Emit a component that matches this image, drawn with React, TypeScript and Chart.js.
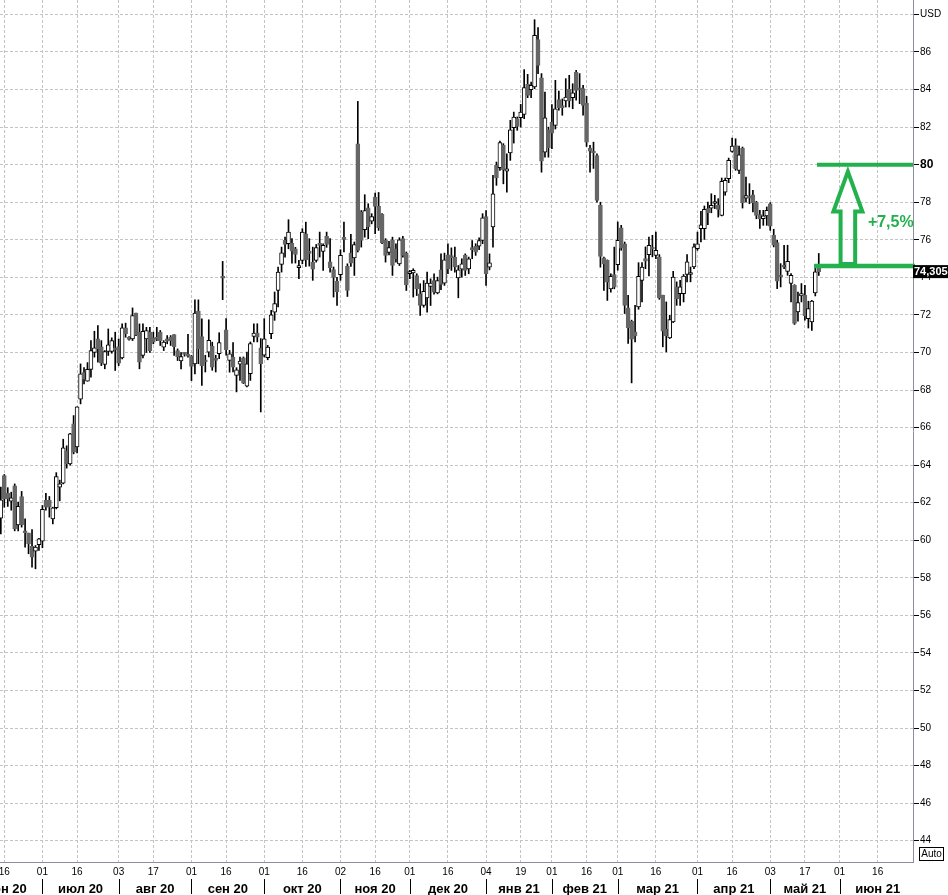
import { useEffect, useRef } from 'react';
import { Chart, registerables } from 'chart.js';

Chart.register(...registerables);

// Trading-day index 0 = 16 Jun 2020 (US trading calendar). First candle = 15 Jun 2020.
const firstCandle = -1;

const opens = [
  61.18, 63.45, 62.5, 62.08, 62.9, 60.82, 62.33, 60.43, 60.38, 59.67,
  59.42, 59.76, 59.95, 62.12, 62.12, 61.14, 61.73, 62.83, 63.04, 64.76,
  64.07, 66.2, 64.97, 67.51, 68.93, 68.47, 69.1, 70.0, 70.72, 70.3,
  69.36, 70.05, 70.05, 70.24, 70.31, 69.71, 71.31, 70.78, 70.72, 72.1,
  71.08, 69.84, 70.72, 71.08, 70.78, 70.75, 71.08, 70.28, 70.72, 70.81,
  70.95, 70.1, 69.55, 69.93, 69.87, 69.8, 69.39, 72.2, 70.85, 69.55,
  70.02, 70.33, 69.6, 69.93, 73.98, 71.21, 69.58, 69.76, 68.78, 69.37,
  69.72, 68.2, 68.87, 70.86, 71.03, 70.25, 69.85, 69.72, 71.0, 72.15,
  73.3, 74.69, 75.97, 75.79, 75.82, 75.52, 74.51, 74.9, 76.32, 75.32,
  74.8, 74.9, 75.8, 75.38, 76.18, 74.83, 74.42, 73.79, 74.14, 76.07,
  74.58, 75.31, 75.04, 81.11, 77.48, 76.54, 77.7, 76.99, 78.27, 77.78,
  77.35, 75.97, 75.33, 76.0, 75.52, 74.72, 76.06, 75.29, 74.2, 74.23,
  74.1, 73.12, 72.5, 72.91, 73.51, 73.83, 73.17, 74.4, 73.69, 75.2,
  75.1, 75.08, 73.97, 74.44, 75.17, 74.45, 75.52, 75.65, 75.66, 75.96,
  77.24, 74.54, 76.68, 79.96, 79.84, 81.03, 79.66, 80.62, 81.97, 82.45,
  82.5, 82.68, 84.28, 83.99, 84.14, 86.66, 84.63, 80.67, 81.86, 82.27,
  82.09, 83.46, 83.08, 83.39, 84.01, 83.57, 84.93, 84.02, 84.05, 83.28,
  80.88, 80.72, 80.49, 77.83, 75.04, 74.9, 73.39, 74.15, 74.68, 76.63,
  75.79, 72.37, 71.66, 71.1, 72.43, 73.83, 75.0, 75.21, 75.55, 75.17,
  75.09, 73.05, 71.24, 70.78, 71.63, 73.49, 73.13, 73.13, 74.15, 74.15,
  74.55, 75.53, 76.59, 76.59, 77.66, 77.69, 77.93, 77.83, 77.3, 78.54,
  79.25, 80.7, 81.02, 79.7, 80.88, 78.22, 78.33, 78.4, 78.01, 77.34,
  77.12, 77.27, 77.92, 76.24, 75.85, 74.08, 74.6, 74.32, 73.67, 73.58,
  72.16, 73.01, 73.05, 71.8, 71.63, 73.17, 74.55,
];

const highs = [
  62.83, 63.5, 62.8, 62.56, 63.0, 62.03, 62.6, 61.14, 60.38, 60.57,
  59.72, 60.1, 61.85, 62.5, 62.33, 61.76, 63.6, 63.2, 65.38, 65.03,
  65.7, 66.64, 67.1, 69.39, 69.2, 69.46, 70.63, 71.13, 71.43, 70.63,
  70.1, 71.25, 70.78, 71.08, 70.72, 71.52, 71.56, 70.85, 72.37, 72.1,
  71.52, 71.52, 71.34, 71.34, 71.08, 71.34, 71.17, 70.63, 70.9, 70.9,
  70.95, 70.19, 70.0, 70.0, 70.97, 69.84, 72.8, 72.8, 71.79, 69.85,
  71.74, 70.55, 69.85, 71.05, 74.85, 71.8, 70.11, 70.52, 69.19, 69.76,
  69.76, 70.02, 70.56, 71.53, 71.53, 70.74, 71.8, 70.38, 72.24, 73.22,
  74.55, 75.61, 76.14, 77.07, 76.06, 75.6, 74.9, 76.59, 76.94, 76.06,
  75.61, 75.75, 76.41, 75.79, 76.41, 76.06, 74.55, 74.0, 75.47, 76.94,
  74.72, 76.29, 75.88, 83.37, 77.56, 78.4, 77.92, 77.39, 78.49, 78.52,
  77.39, 76.06, 75.92, 76.14, 75.79, 76.11, 76.18, 75.35, 74.37, 74.46,
  74.19, 73.66, 73.83, 74.28, 73.92, 74.19, 74.01, 75.25, 75.29, 75.79,
  75.57, 75.61, 74.63, 74.99, 75.25, 75.08, 75.96, 75.79, 76.1, 77.39,
  77.56, 75.25, 79.43, 80.14, 81.26, 81.12, 80.58, 82.36, 82.8, 82.54,
  83.21, 85.06, 84.81, 84.4, 87.72, 87.3, 84.85, 83.87, 82.0, 83.2,
  84.49, 83.92, 83.5, 84.58, 84.76, 84.31, 85.02, 84.85, 84.23, 83.64,
  81.03, 81.2, 80.58, 78.0, 75.08, 74.93, 74.19, 75.61, 76.95, 76.77,
  75.88, 73.04, 71.72, 72.51, 74.78, 74.78, 75.62, 76.15, 76.24, 76.41,
  75.21, 73.05, 72.69, 71.98, 74.32, 73.76, 73.84, 74.15, 75.21, 74.55,
  75.79, 76.41, 77.51, 77.8, 78.01, 78.45, 78.37, 78.19, 79.29, 79.29,
  80.35, 81.42, 81.38, 80.99, 80.94, 79.34, 78.99, 78.63, 78.05, 77.57,
  77.57, 77.75, 77.98, 76.56, 75.97, 74.73, 75.71, 75.71, 74.2, 73.61,
  73.22, 73.67, 73.58, 72.73, 72.78, 74.68, 75.27,
];

const lows = [
  60.34, 61.76, 61.8, 61.6, 60.5, 60.5, 60.7, 59.63, 59.28, 58.57,
  58.48, 59.46, 59.6, 61.6, 61.23, 60.87, 61.67, 62.1, 63.0, 63.84,
  64.0, 64.6, 64.65, 67.26, 68.33, 68.47, 68.68, 69.75, 69.48, 69.3,
  69.13, 69.84, 69.96, 69.04, 69.3, 69.66, 70.81, 70.65, 70.63, 70.9,
  69.13, 69.71, 70.0, 70.0, 70.46, 70.63, 70.37, 70.1, 70.46, 70.37,
  69.84, 69.57, 69.13, 69.8, 69.75, 68.5, 68.86, 69.4, 68.24, 68.96,
  69.76, 69.05, 68.96, 69.67, 72.81, 69.85, 68.95, 68.96, 67.9, 68.51,
  68.34, 68.16, 68.51, 70.56, 70.56, 66.83, 69.76, 69.61, 70.73, 71.71,
  72.42, 74.28, 75.08, 75.52, 74.76, 74.76, 73.93, 74.72, 74.58, 74.6,
  73.84, 74.81, 75.08, 74.37, 75.6, 74.28, 72.95, 72.5, 73.84, 75.35,
  72.98, 74.58, 74.1, 75.35, 75.61, 76.14, 76.06, 76.85, 76.32, 76.5,
  75.79, 74.81, 75.2, 74.1, 74.81, 74.63, 75.08, 73.3, 73.93, 72.95,
  73.03, 71.97, 72.41, 72.15, 72.5, 73.1, 73.12, 73.34, 73.57, 74.19,
  74.37, 74.28, 72.91, 74.01, 74.1, 74.19, 74.99, 75.17, 75.47, 75.79,
  73.57, 74.4, 75.61, 78.9, 79.69, 78.98, 78.54, 80.23, 81.15, 81.83,
  82.0, 82.45, 83.57, 83.57, 84.05, 84.85, 79.6, 80.4, 80.4, 80.85,
  81.9, 82.9, 82.63, 83.07, 83.07, 82.98, 83.43, 83.25, 82.63, 80.97,
  79.6, 79.8, 78.0, 74.54, 73.3, 72.77, 73.21, 73.39, 74.38, 75.44,
  72.07, 70.48, 68.38, 70.56, 72.3, 72.69, 74.46, 74.07, 75.09, 75.0,
  72.83, 70.3, 70.03, 70.74, 71.59, 72.51, 72.51, 72.69, 73.76, 73.76,
  74.46, 75.44, 75.88, 76.02, 76.8, 77.44, 77.66, 77.21, 77.27, 78.37,
  79.04, 80.67, 79.7, 79.52, 77.69, 78.01, 77.92, 77.48, 77.12, 76.6,
  76.77, 76.77, 76.5, 75.62, 73.4, 73.49, 74.46, 74.11, 72.69, 71.49,
  71.66, 72.69, 71.72, 71.3, 71.18, 73.01, 74.1,
];

const closes = [
  62.15, 62.2, 62.2, 62.26, 60.6, 61.8, 60.82, 60.4, 59.81, 59.1,
  59.63, 60.08, 61.64, 61.76, 61.76, 61.73, 63.39, 63.0, 64.92, 64.07,
  65.67, 64.69, 67.1, 68.86, 68.58, 69.1, 70.1, 70.24, 70.19, 69.43,
  70.05, 70.4, 70.63, 70.14, 69.43, 71.31, 70.99, 70.7, 71.96, 70.94,
  69.48, 71.13, 71.17, 70.1, 70.55, 70.7, 70.63, 70.55, 70.6, 70.63,
  70.31, 69.78, 69.78, 69.9, 69.8, 69.25, 72.1, 70.19, 69.3, 69.5,
  70.64, 69.22, 69.58, 70.52, 73.95, 70.15, 69.93, 69.22, 69.08, 69.54,
  68.37, 69.4, 70.47, 71.03, 70.82, 69.4, 70.73, 70.29, 72.0, 72.6,
  74.28, 75.31, 75.75, 76.41, 75.4, 75.22, 74.63, 76.41, 74.93, 75.28,
  74.44, 75.58, 75.7, 75.7, 75.75, 74.51, 74.0, 73.22, 75.17, 76.02,
  73.3, 74.76, 75.75, 75.43, 75.97, 77.56, 76.68, 77.24, 77.78, 76.64,
  75.83, 75.17, 75.58, 74.64, 74.99, 76.0, 75.17, 73.6, 74.28, 74.37,
  73.39, 72.5, 73.26, 73.69, 73.69, 73.21, 73.83, 73.62, 74.93, 74.45,
  75.05, 74.54, 74.4, 74.72, 74.37, 74.99, 75.48, 75.34, 75.96, 77.17,
  74.19, 74.77, 78.45, 79.29, 81.17, 79.73, 79.78, 81.86, 82.54, 82.04,
  82.8, 84.1, 83.69, 84.23, 86.89, 85.29, 80.19, 82.5, 80.9, 81.68,
  82.98, 83.03, 83.04, 83.6, 83.39, 83.82, 83.96, 83.98, 83.16, 81.2,
  80.72, 80.62, 78.1, 75.11, 74.72, 73.74, 74.06, 73.48, 75.97, 75.56,
  72.51, 71.31, 70.71, 70.88, 74.06, 74.54, 74.86, 75.71, 75.51, 75.44,
  72.9, 71.13, 70.88, 71.75, 74.02, 72.87, 73.49, 74.07, 74.82, 74.25,
  75.62, 75.79, 76.8, 77.62, 77.44, 77.83, 77.97, 77.62, 79.11, 79.16,
  80.23, 80.99, 79.78, 80.53, 77.98, 78.36, 78.22, 77.98, 77.3, 77.12,
  77.27, 77.57, 76.73, 75.71, 73.79, 74.02, 74.54, 74.85, 74.11, 71.54,
  72.66, 73.13, 71.95, 72.34, 72.73, 74.29, 74.305,
];

// Bottom axis: day ticks (trading-day index) and their labels
const dayTickIdx = [0, 11, 21, 33, 43, 54, 64, 75, 86, 97, 107, 117, 128, 139, 149, 158, 168, 177, 188, 200, 210, 221, 231, 241, 252];
const dayTickLabels = ['16', '01', '16', '03', '17', '01', '16', '01', '16', '02', '16', '01', '16', '04', '19', '01', '16', '01', '16', '01', '16', '03', '17', '01', '16'];

// Month bands: first trading day index of each month
const monthStartIdx = [-11, 11, 33, 54, 75, 97, 117, 139, 158, 177, 200, 221, 241, 263];
const monthLabels = ['июн 20', 'июл 20', 'авг 20', 'сен 20', 'окт 20', 'ноя 20', 'дек 20', 'янв 21', 'фев 21', 'мар 21', 'апр 21', 'май 21', 'июн 21'];

// Right axis ticks
const yTickValues = [44, 46, 48, 50, 52, 54, 56, 58, 60, 62, 64, 66, 68, 70, 72, 74, 76, 78, 80, 82, 84, 86, 88];
const yUnitLabel = 'USD';

// Visible ranges
const xMin = -1.2407;
const xMax = 262.19;
const yMin = 42.866;
const yMax = 88.769;

// Annotation values
const targetLevel = 80;
const baseLevel = 74.6;
const targetLineStart = 234.5;
const baseLineStart = 233.7;
const arrowIdx = 243.4;
const arrowHeadLevel = 77.5;
const gainText = '+7,5%';
const gainTextLevel = 76.68;
const lastPrice = 74.305;
const lastPriceText = '74,3050';

const FONT = "Arial, 'Liberation Sans', sans-serif";
const GREEN = '#22b14c';
const GRID = '#c4c4c4';
const AXIS = '#8e8e9e';

const overlayPlugin = {
  id: 'overlay',
  afterDraw(chart: any) {
    const { ctx, scales } = chart;
    const x = scales.x;
    const y = scales.y;
    const H = chart.height;
    const W = chart.width;
    const area = chart.chartArea;
    ctx.save();

    // month separators and labels
    ctx.strokeStyle = '#000';
    ctx.lineWidth = 1;
    ctx.beginPath();
    for (let m = 0; m < monthStartIdx.length; m++) {
      const v = monthStartIdx[m];
      if (v < xMin || v > xMax) continue;
      const px = Math.round(x.getPixelForValue(v)) + 0.5;
      ctx.moveTo(px, H - 16);
      ctx.lineTo(px, H - 1);
    }
    ctx.stroke();
    ctx.fillStyle = '#000';
    ctx.font = `bold 13px ${FONT}`;
    ctx.textAlign = 'center';
    ctx.textBaseline = 'alphabetic';
    for (let m = 0; m < monthLabels.length; m++) {
      const a = x.getPixelForValue(monthStartIdx[m]);
      const b = x.getPixelForValue(monthStartIdx[m + 1]);
      ctx.fillText(monthLabels[m], (a + b) / 2, H - 2.5);
    }

    // green level lines
    ctx.strokeStyle = GREEN;
    ctx.lineWidth = 4;
    ctx.lineCap = 'butt';
    const yT = y.getPixelForValue(targetLevel);
    const yB = y.getPixelForValue(baseLevel);
    ctx.beginPath();
    ctx.moveTo(x.getPixelForValue(targetLineStart), yT);
    ctx.lineTo(area.right, yT);
    ctx.stroke();
    ctx.lineWidth = 4.5;
    ctx.beginPath();
    ctx.moveTo(x.getPixelForValue(baseLineStart), yB);
    ctx.lineTo(area.right + 2, yB);
    ctx.stroke();

    // hollow arrow
    const cx = x.getPixelForValue(arrowIdx);
    const yHead = y.getPixelForValue(arrowHeadLevel);
    const yTip = yT + 7;
    ctx.lineWidth = 4;
    ctx.lineJoin = 'miter';
    ctx.miterLimit = 10;
    ctx.beginPath();
    ctx.moveTo(cx, yTip);
    ctx.lineTo(cx + 14.5, yHead);
    ctx.lineTo(cx + 7.3, yHead);
    ctx.lineTo(cx + 7.3, yB - 2);
    ctx.lineTo(cx - 7.3, yB - 2);
    ctx.lineTo(cx - 7.3, yHead);
    ctx.lineTo(cx - 14.5, yHead);
    ctx.closePath();
    ctx.stroke();

    // gain text
    ctx.fillStyle = GREEN;
    ctx.font = `bold 16px ${FONT}`;
    ctx.textAlign = 'left';
    ctx.textBaseline = 'alphabetic';
    ctx.fillText(gainText, cx + 20, y.getPixelForValue(gainTextLevel));

    // last price box
    const yL = y.getPixelForValue(lastPrice);
    ctx.fillStyle = '#000';
    ctx.fillRect(area.right, yL - 6.5, W - area.right, 13);
    ctx.fillStyle = '#fff';
    ctx.font = `bold 11px ${FONT}`;
    ctx.textBaseline = 'middle';
    ctx.fillText(lastPriceText, area.right + 1, yL + 0.5);

    // Auto box
    ctx.strokeStyle = '#000';
    ctx.lineWidth = 1;
    ctx.strokeRect(area.right + 6.5, area.bottom - 14.5, 24, 13);
    ctx.fillStyle = '#000';
    ctx.font = `10px ${FONT}`;
    ctx.textAlign = 'center';
    ctx.textBaseline = 'middle';
    ctx.fillText('Auto', area.right + 18.5, area.bottom - 7.5);

    ctx.restore();
  },
};

export default function App() {
  const ref = useRef<HTMLCanvasElement>(null);
  useEffect(() => {
    const wicks = opens.map((_, k) => ({ x: firstCandle + k, y: [lows[k], highs[k]] }));
    const bodies = opens.map((o, k) => ({ x: firstCandle + k, y: [o, closes[k]] }));
    const up = opens.map((o, k) => closes[k] >= o);
    const chart = new Chart(ref.current as HTMLCanvasElement, {
      type: 'bar',
      data: {
        datasets: [
          {
            data: wicks as any,
            barThickness: 1,
            backgroundColor: '#000',
            borderWidth: 0,
            grouped: false,
            order: 2,
          } as any,
          {
            data: bodies as any,
            barThickness: 4,
            backgroundColor: up.map((u) => (u ? '#ffffff' : '#666666')),
            borderColor: up.map((u) => (u ? '#000000' : '#666666')),
            borderWidth: 1,
            borderSkipped: false,
            minBarLength: 2,
            grouped: false,
            order: 1,
          } as any,
        ],
      },
      options: {
        animation: false,
        responsive: false,
        maintainAspectRatio: false,
        devicePixelRatio: 1,
        events: [],
        layout: { padding: 0 },
        plugins: { legend: { display: false }, tooltip: { enabled: false } },
        scales: {
          x: {
            type: 'linear',
            position: 'bottom',
            min: xMin,
            max: xMax,
            offset: false,
            afterBuildTicks: (s: any) => {
              s.ticks = dayTickIdx.map((v) => ({ value: v }));
            },
            afterFit: (s: any) => {
              s.height = 33;
              s.paddingLeft = 0;
              s.paddingRight = 0;
            },
            ticks: {
              autoSkip: false,
              maxRotation: 0,
              minRotation: 0,
              padding: 4,
              color: '#000',
              font: { family: FONT, size: 10 },
              callback: (_v: any, i: number) => dayTickLabels[i],
            },
            grid: { color: GRID, lineWidth: 1, drawTicks: false, offset: false },
            border: { display: true, color: AXIS, width: 1, dash: [3, 2] },
          },
          y: {
            type: 'linear',
            position: 'right',
            min: yMin,
            max: yMax,
            afterBuildTicks: (s: any) => {
              s.ticks = yTickValues.map((v) => ({ value: v }));
            },
            afterFit: (s: any) => {
              s.width = 35;
              s.paddingTop = 0;
              s.paddingBottom = 0;
            },
            ticks: {
              padding: 1,
              color: '#000',
              font: (c: any) =>
                c.tick && c.tick.value === targetLevel
                  ? { family: FONT, size: 12, weight: 'bold' }
                  : { family: FONT, size: 10 },
              callback: (v: any) => (v === 88 ? yUnitLabel : String(v)),
            },
            grid: { color: GRID, lineWidth: 1, drawTicks: true, tickLength: 6, tickColor: '#000', tickBorderDash: [] },
            border: { display: true, color: AXIS, width: 1, dash: [3, 2] },
          },
        },
      } as any,
      plugins: [overlayPlugin],
    });
    return () => chart.destroy();
  }, []);
  return (
    <div style={{ position: 'absolute', left: 0, top: 0, width: 948, height: 895, background: '#fff' }}>
      <canvas ref={ref} width={948} height={895} style={{ display: 'block' }} />
    </div>
  );
}
